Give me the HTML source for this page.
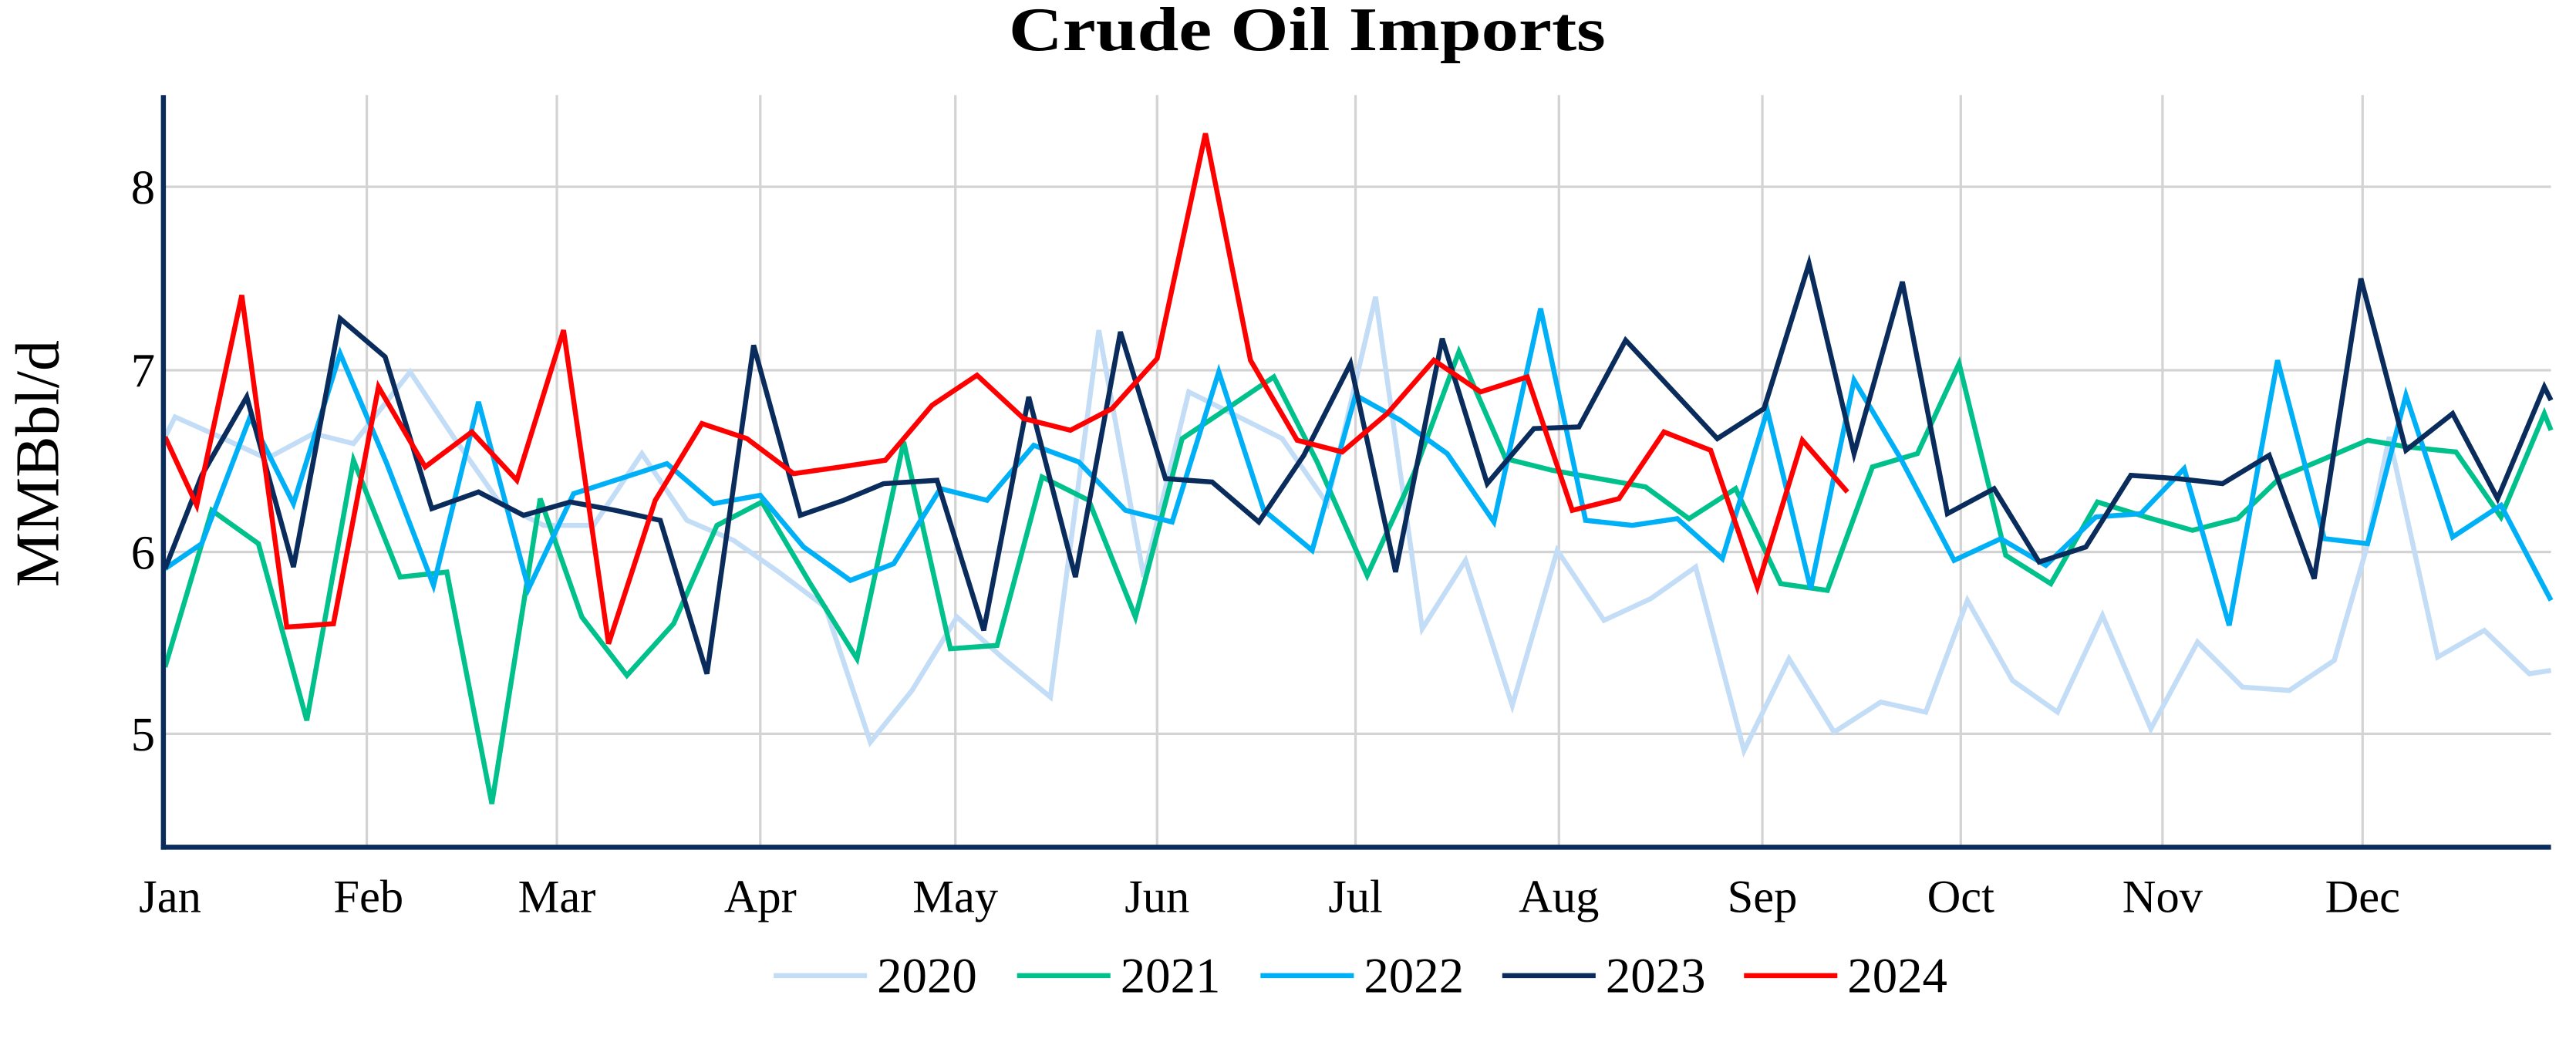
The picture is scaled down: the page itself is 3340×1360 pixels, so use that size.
<!DOCTYPE html>
<html><head><meta charset="utf-8"><style>
html,body{margin:0;padding:0;background:#fff;}
svg{display:block;}
text{font-family:"Liberation Serif",serif;fill:#000;}
</style></head><body>
<svg width="3340" height="1360" viewBox="0 0 1545 629" preserveAspectRatio="none" xmlns="http://www.w3.org/2000/svg">
<rect width="1545" height="629" fill="#fff"/>
<text x="784" y="30" text-anchor="middle" font-size="37" font-weight="bold" textLength="358" lengthAdjust="spacingAndGlyphs">Crude Oil Imports</text>
<g stroke="#d3d3d3" stroke-width="1.5">
<line x1="97" y1="112" x2="1530" y2="112"/>
<line x1="97" y1="222" x2="1530" y2="222"/>
<line x1="97" y1="331" x2="1530" y2="331"/>
<line x1="97" y1="440" x2="1530" y2="440"/>
<line x1="220" y1="57" x2="220" y2="508"/>
<line x1="334" y1="57" x2="334" y2="508"/>
<line x1="456" y1="57" x2="456" y2="508"/>
<line x1="573" y1="57" x2="573" y2="508"/>
<line x1="694" y1="57" x2="694" y2="508"/>
<line x1="813" y1="57" x2="813" y2="508"/>
<line x1="935" y1="57" x2="935" y2="508"/>
<line x1="1057" y1="57" x2="1057" y2="508"/>
<line x1="1176" y1="57" x2="1176" y2="508"/>
<line x1="1297" y1="57" x2="1297" y2="508"/>
<line x1="1417" y1="57" x2="1417" y2="508"/>
</g>
<g font-size="29" text-anchor="end">
<text x="93" y="122">8</text><text x="93" y="232">7</text><text x="93" y="341">6</text><text x="93" y="450">5</text>
</g>
<text transform="translate(35,278) rotate(-90)" font-size="37" text-anchor="middle">MMBbl/d</text>
<g font-size="28" text-anchor="middle">
<text x="102" y="547">Jan</text><text x="221" y="547">Feb</text><text x="334" y="547">Mar</text><text x="456" y="547">Apr</text><text x="573" y="547">May</text><text x="694" y="547">Jun</text><text x="813" y="547">Jul</text><text x="935" y="547">Aug</text><text x="1057" y="547">Sep</text><text x="1176" y="547">Oct</text><text x="1297" y="547">Nov</text><text x="1417" y="547">Dec</text>
</g>
<g fill="none" stroke-width="3" stroke-linejoin="miter">
<polyline stroke="#c3ddf7" points="99,262 105,250 132,262 160,275 188,260 212,266 246,223 272,262 300,302 326,315 356,315 385,272 412,312 440,324 467,343 495,364 522,445 547,414 574,370 602,395 630,418 659,198 686,346 713,235 741,249 769,263 796,302 825,178 853,377 879,336 907,423 934,330 962,372 990,359 1017,340 1046,450 1073,395 1100,439 1128,421 1155,427 1180,360 1207,408 1234,427 1261,369 1290,437 1318,385 1345,412 1373,414 1400,396 1419,330 1433,262 1462,394 1490,378 1517,404 1530,402"/>
<polyline stroke="#00c08b" points="99,400 127,306 155,326 184,432 212,276 240,346 268,343 295,482 324,299 349,370 376,405 404,374 430,315 457,301 486,350 514,395 542,265 570,389 598,387 625,286 653,300 681,370 709,263 736,245 764,226 790,277 820,345 848,284 875,211 903,275 931,282 959,287 987,292 1013,311 1041,293 1068,350 1096,354 1123,280 1150,272 1175,218 1203,333 1230,350 1258,301 1287,310 1315,318 1342,311 1368,286 1392,276 1420,264 1444,268 1473,271 1500,310 1526,248 1530,258"/>
<polyline stroke="#00b0f6" points="99,341 121,326 150,250 176,302 204,212 232,278 260,351 287,241 317,353 344,296 372,287 400,278 428,302 456,297 482,328 510,348 536,338 564,293 592,300 620,267 647,277 675,306 703,313 731,223 758,306 787,330 813,237 840,252 868,272 896,313 924,185 951,312 979,315 1006,311 1033,335 1060,246 1086,353 1112,228 1140,275 1172,336 1200,323 1227,339 1257,310 1284,308 1310,281 1337,375 1366,216 1394,323 1420,326 1443,237 1471,322 1500,303 1530,360"/>
<polyline stroke="#0a2c5c" points="99,341 121,285 148,238 176,340 204,191 231,214 259,305 287,295 314,309 342,301 369,306 396,312 424,404 452,207 480,309 506,300 530,290 562,288 590,378 617,238 645,346 672,199 699,287 727,289 755,313 782,273 810,218 837,343 865,203 892,290 920,257 947,256 975,204 1003,234 1030,263 1058,245 1085,158 1112,272 1141,169 1168,308 1196,293 1223,337 1251,328 1278,285 1306,287 1333,290 1361,273 1388,347 1416,167 1443,270 1471,248 1498,299 1526,232 1530,240"/>
<polyline stroke="#ff0000" points="99,262 118,303 145,177 172,376 200,374 227,232 255,280 283,259 310,288 338,198 365,386 393,300 421,254 448,263 476,284 504,280 531,276 559,243 586,225 614,251 642,258 667,245 694,215 723,80 750,216 778,264 805,271 832,248 860,216 888,235 916,226 943,306 971,299 998,259 1026,270 1054,352 1081,264 1108,295"/>
</g>
<g stroke="#0a2c5c" stroke-width="3">
<line x1="98" y1="57" x2="98" y2="509.5"/>
<line x1="96.5" y1="508" x2="1530" y2="508"/>
</g>
<g stroke-width="3">
<line x1="464" y1="585" x2="520" y2="585" stroke="#c3ddf7"/>
<line x1="610" y1="585" x2="666" y2="585" stroke="#00c08b"/>
<line x1="756" y1="585" x2="812" y2="585" stroke="#00b0f6"/>
<line x1="901" y1="585" x2="957" y2="585" stroke="#0a2c5c"/>
<line x1="1046" y1="585" x2="1102" y2="585" stroke="#ff0000"/>
</g>
<g font-size="30">
<text x="526" y="595">2020</text><text x="672" y="595">2021</text><text x="818" y="595">2022</text><text x="963" y="595">2023</text><text x="1108" y="595">2024</text>
</g>
</svg>
</body></html>
